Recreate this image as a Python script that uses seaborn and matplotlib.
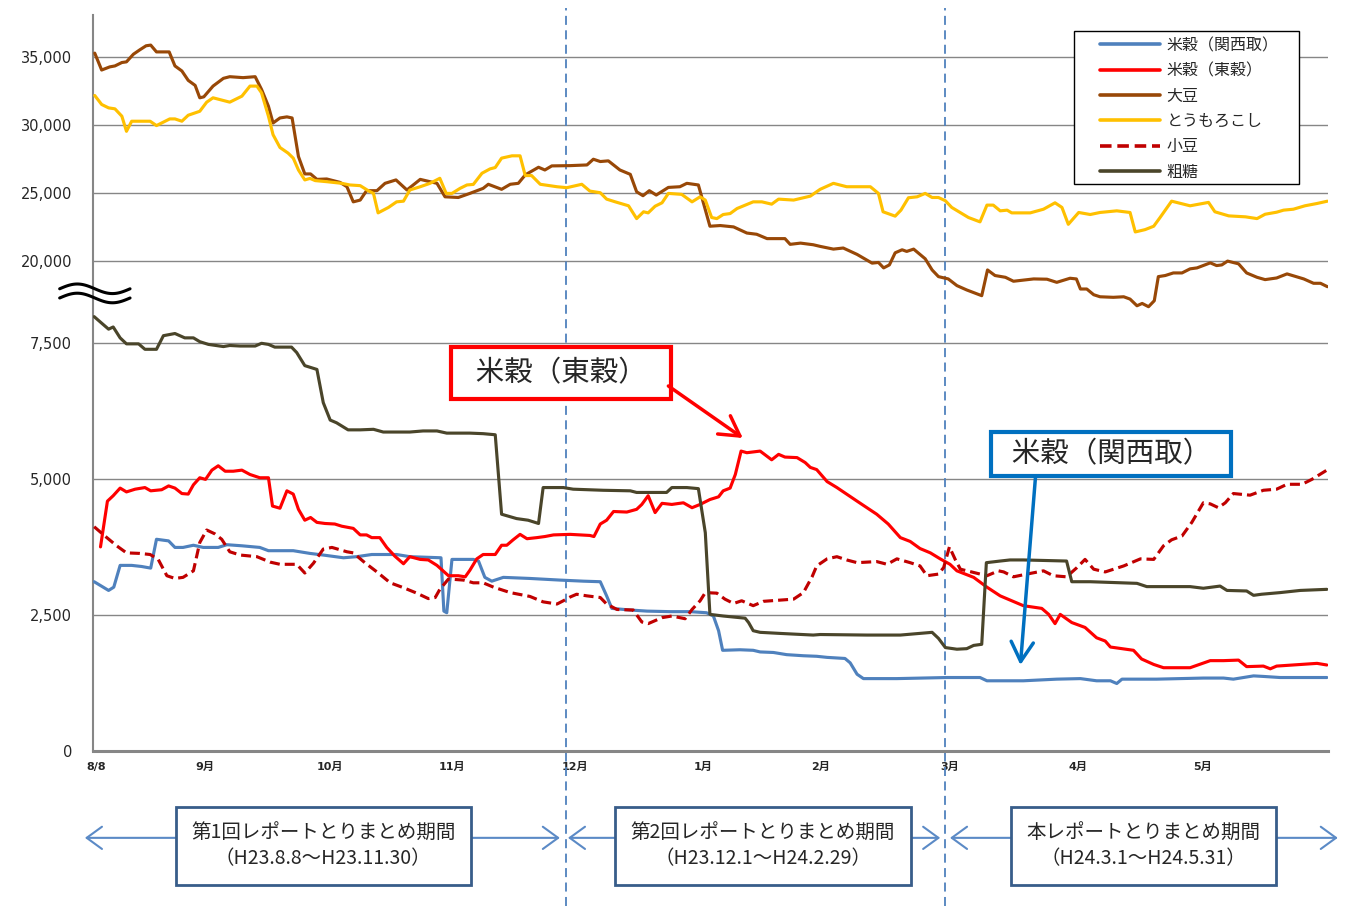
import matplotlib
matplotlib.use("Agg")
import matplotlib.pyplot as plt
import numpy as np
import pandas as pd
import seaborn as sns
from matplotlib.patches import Rectangle

# 横軸: 営業日の通し番号 (0 = H23.8.8), 値: 円/単位
kansai = [(0.2, 3110), (2.7, 2950), (3.6, 3010), (4.7, 3410), (6.7, 3410), (8.4, 3390),
          (10.0, 3360), (11.0, 3890), (13.1, 3860), (14.2, 3740), (15.6, 3740), (17.4, 3780),
          (19.1, 3740), (21.7, 3740), (23.2, 3790), (25.8, 3770), (28.9, 3740), (30.4, 3680),
          (34.7, 3680), (37.6, 3630), (39.9, 3600), (43.4, 3550), (45.7, 3570), (48.3, 3610),
          (52.6, 3610), (54.9, 3570), (60.3, 3550), (60.8, 2570), (61.3, 2540), (62.2, 3520),
          (65.9, 3520), (66.8, 3490), (67.9, 3190), (69.1, 3120), (71.1, 3190), (75.7, 3170),
          (80.9, 3140), (85.0, 3120), (87.9, 3110), (89.0, 2850), (89.9, 2620), (93.1, 2590),
          (96.0, 2570), (100.0, 2560), (103.5, 2560), (106.3, 2540), (107.5, 2480), (108.4, 2210),
          (109.1, 1850), (112.1, 1860), (114.4, 1850), (115.6, 1820), (117.9, 1810), (120.2, 1770),
          (123.1, 1750), (125.4, 1740), (127.2, 1720), (130.3, 1700), (131.2, 1620), (132.4, 1410),
          (133.5, 1330), (139.3, 1330), (148.0, 1350), (153.7, 1350), (154.9, 1290), (161.2, 1290),
          (167.0, 1320), (171.1, 1330), (173.9, 1290), (176.3, 1290), (177.4, 1240), (178.3, 1320),
          (184.3, 1320), (192.4, 1340), (195.9, 1340), (197.6, 1320), (201.1, 1380), (202.8, 1370),
          (205.7, 1350), (213.8, 1350)]

tokoku = [(1.3, 3750), (2.5, 4590), (3.5, 4690), (4.7, 4830), (5.8, 4760), (7.3, 4810),
          (9.0, 4840), (10.0, 4780), (11.9, 4800), (13.1, 4870), (14.2, 4830), (15.4, 4730),
          (16.5, 4720), (17.4, 4890), (18.5, 5020), (19.5, 4990), (20.6, 5160), (21.7, 5240),
          (22.9, 5140), (24.3, 5140), (25.8, 5160), (27.2, 5080), (28.9, 5020), (30.4, 5020),
          (31.1, 4500), (32.4, 4460), (33.6, 4780), (34.7, 4720), (35.6, 4440), (36.7, 4240),
          (37.7, 4290), (38.8, 4200), (40.2, 4180), (41.9, 4170), (43.1, 4130), (45.1, 4090),
          (46.3, 3970), (47.4, 3970), (48.3, 3920), (49.7, 3920), (50.9, 3740), (52.3, 3580),
          (53.8, 3440), (54.9, 3570), (56.7, 3520), (58.1, 3510), (59.6, 3410), (61.6, 3220),
          (63.3, 3220), (64.5, 3200), (65.3, 3320), (66.5, 3530), (67.6, 3610), (69.7, 3610),
          (70.8, 3780), (71.7, 3780), (72.8, 3880), (74.0, 3980), (75.2, 3900), (76.9, 3920),
          (78.3, 3940), (79.8, 3970), (82.7, 3980), (86.1, 3960), (86.8, 3940), (87.9, 4170),
          (89.0, 4240), (90.2, 4400), (92.5, 4390), (94.2, 4440), (95.1, 4530), (96.2, 4690),
          (97.4, 4380), (98.6, 4550), (100.3, 4530), (102.3, 4560), (103.8, 4470), (105.2, 4530),
          (106.9, 4620), (108.4, 4670), (109.2, 4780), (110.4, 4830), (111.3, 5080), (112.3, 5510),
          (113.3, 5480), (115.6, 5510), (117.6, 5350), (118.8, 5450), (119.9, 5400), (122.0, 5390),
          (123.4, 5300), (124.3, 5210), (125.4, 5170), (127.2, 4950), (128.9, 4840), (132.4, 4590),
          (135.8, 4350), (137.8, 4170), (139.9, 3920), (141.6, 3850), (143.3, 3720), (145.1, 3640),
          (146.8, 3530), (148.5, 3430), (149.7, 3310), (152.6, 3190), (154.9, 3010), (157.2, 2850),
          (158.3, 2800), (161.2, 2670), (164.4, 2620), (165.6, 2510), (166.7, 2340), (167.6, 2510),
          (169.6, 2360), (171.9, 2270), (173.9, 2080), (175.4, 2020), (176.3, 1910), (180.3, 1850),
          (181.7, 1690), (183.8, 1590), (185.5, 1530), (190.1, 1530), (193.6, 1660), (195.9, 1660),
          (198.5, 1670), (199.9, 1550), (202.8, 1560), (204.0, 1510), (205.1, 1560), (209.2, 1590),
          (212.1, 1610), (213.8, 1580)]

daizu = [(0.3, 35300), (1.5, 34060), (2.9, 34290), (3.8, 34360), (5.0, 34610), (5.8, 34660),
         (7.0, 35220), (8.1, 35540), (9.2, 35840), (10.0, 35890), (11.0, 35390), (13.2, 35390),
         (14.2, 34360), (15.4, 33990), (16.5, 33300), (17.7, 32930), (18.5, 32020), (19.2, 32090),
         (20.8, 32880), (22.6, 33450), (23.7, 33570), (26.0, 33500), (28.1, 33570), (29.2, 32640),
         (30.4, 31400), (31.2, 30170), (32.4, 30540), (33.6, 30620), (34.5, 30540), (35.6, 27710),
         (36.7, 26430), (37.7, 26430), (38.8, 26030), (40.5, 26060), (42.8, 25810), (44.0, 25490),
         (45.1, 24380), (46.3, 24510), (47.4, 25200), (49.2, 25200), (50.6, 25740), (52.5, 25990),
         (54.4, 25250), (56.7, 26030), (59.6, 25740), (61.0, 24750), (63.3, 24700), (65.3, 25000),
         (67.6, 25370), (68.5, 25670), (70.8, 25300), (72.3, 25670), (73.7, 25740), (74.9, 26360),
         (77.2, 26920), (78.3, 26720), (79.5, 27020), (82.7, 27040), (85.6, 27090), (86.7, 27510),
         (87.9, 27340), (89.3, 27390), (91.3, 26720), (93.1, 26400), (94.2, 25120), (95.3, 24830),
         (96.4, 25200), (97.6, 24880), (99.7, 25440), (101.7, 25490), (102.9, 25740), (104.9, 25620),
         (106.9, 22590), (108.7, 22640), (111.0, 22540), (113.3, 22090), (115.0, 22000), (116.8, 21680),
         (119.9, 21680), (120.8, 21260), (122.6, 21350), (124.8, 21230), (126.0, 21110), (128.3, 20910),
         (130.0, 20990), (132.4, 20520), (135.0, 19880), (136.1, 19930), (137.0, 19530), (138.0, 19750),
         (139.0, 20640), (140.2, 20860), (141.0, 20740), (142.2, 20910), (144.2, 20200), (145.4, 19380),
         (146.5, 18890), (148.2, 18720), (149.7, 18230), (151.4, 17910), (154.0, 17490), (155.0, 19380),
         (156.3, 18970), (158.1, 18840), (159.5, 18550), (163.0, 18720), (165.3, 18700), (167.0, 18470),
         (169.3, 18770), (170.4, 18720), (171.1, 17980), (172.2, 17980), (173.4, 17560), (174.5, 17410),
         (176.8, 17370), (178.6, 17410), (179.7, 17240), (180.9, 16750), (181.8, 16920), (182.9, 16680),
         (183.9, 17120), (184.6, 18890), (185.8, 18970), (187.2, 19160), (188.7, 19160), (190.1, 19460),
         (191.3, 19530), (193.6, 19900), (194.7, 19700), (195.6, 19750), (196.6, 20030), (198.5, 19830),
         (199.9, 19160), (201.7, 18840), (203.1, 18670), (205.1, 18790), (206.9, 19090), (209.8, 18720),
         (211.5, 18400), (212.7, 18400), (213.9, 18150)]

toumorokoshi = [(0.3, 32190), (1.5, 31530), (2.7, 31280), (3.8, 31210), (5.0, 30670), (5.8, 29560),
                (6.7, 30300), (9.9, 30300), (11.0, 29980), (13.3, 30470), (14.2, 30470), (15.4, 30300),
                (16.5, 30740), (18.5, 31030), (19.7, 31700), (20.8, 32020), (23.7, 31700), (25.8, 32140),
                (27.2, 32880), (28.4, 32880), (29.2, 32390), (30.4, 30670), (31.2, 29310), (32.4, 28370),
                (33.8, 27960), (34.7, 27590), (35.6, 26720), (36.7, 25990), (37.6, 26100), (38.5, 25940),
                (40.5, 25860), (43.1, 25740), (44.5, 25620), (46.3, 25570), (47.7, 25200), (48.6, 25000),
                (49.4, 23570), (51.2, 23970), (52.6, 24380), (53.8, 24430), (54.9, 25250), (56.7, 25490),
                (58.4, 25740), (60.1, 26110), (61.2, 25000), (62.2, 25000), (63.6, 25370), (64.8, 25620),
                (65.9, 25660), (67.4, 26480), (68.8, 26800), (69.7, 26900), (70.8, 27590), (72.6, 27760),
                (74.0, 27760), (74.9, 26310), (76.0, 26310), (77.5, 25670), (80.4, 25490), (82.1, 25420),
                (84.7, 25670), (86.1, 25170), (87.9, 25050), (89.0, 24580), (90.5, 24380), (92.8, 24090),
                (94.2, 23150), (95.4, 23650), (96.2, 23570), (97.4, 24060), (98.6, 24310), (99.7, 25000),
                (102.0, 24930), (103.8, 24380), (105.2, 24750), (106.1, 24510), (107.2, 23230), (108.1, 23150),
                (109.2, 23450), (110.4, 23520), (111.6, 23890), (114.4, 24380), (115.9, 24380), (117.6, 24210),
                (118.8, 24580), (121.4, 24510), (124.3, 24800), (126.0, 25300), (128.3, 25740), (130.6, 25490),
                (132.9, 25490), (134.7, 25490), (136.1, 25000), (136.9, 23650), (139.0, 23330), (140.0, 23770),
                (141.3, 24680), (142.8, 24750), (144.2, 25000), (145.4, 24700), (146.5, 24700), (147.7, 24460),
                (148.8, 23970), (151.7, 23230), (153.7, 22910), (154.9, 24140), (156.0, 24140), (157.2, 23720),
                (158.4, 23770), (159.2, 23570), (162.4, 23570), (164.7, 23840), (166.7, 24310), (167.9, 23970),
                (169.0, 22730), (170.8, 23600), (172.8, 23450), (174.5, 23600), (177.4, 23720), (179.7, 23600),
                (180.6, 22170), (182.3, 22340), (183.8, 22590), (184.9, 23230), (186.9, 24430), (190.1, 24090),
                (193.3, 24340), (194.4, 23650), (196.8, 23350), (199.7, 23280), (201.7, 23150), (203.1, 23470),
                (205.1, 23620), (206.3, 23770), (208.0, 23840), (210.0, 24090), (212.1, 24260), (213.9, 24430)]

azuki = [(0.2, 4120), (2.4, 3920), (4.1, 3770), (5.8, 3640), (8.1, 3630), (9.9, 3610),
         (11.3, 3520), (12.8, 3220), (14.2, 3170), (15.6, 3190), (17.4, 3310), (18.5, 3830),
         (19.7, 4060), (21.1, 3990), (22.3, 3890), (23.7, 3660), (25.5, 3600), (28.4, 3570),
         (30.7, 3470), (32.4, 3430), (35.3, 3430), (36.7, 3270), (38.2, 3450), (39.9, 3710),
         (41.4, 3740), (44.0, 3660), (45.1, 3640), (47.1, 3460), (49.2, 3290), (51.5, 3090),
         (53.8, 3000), (56.1, 2900), (58.1, 2800), (59.3, 2820), (60.1, 2970), (61.6, 3160),
         (64.2, 3140), (65.9, 3090), (67.6, 3090), (69.4, 3010), (72.3, 2910), (75.7, 2840),
         (78.0, 2740), (80.4, 2700), (81.5, 2760), (82.7, 2830), (83.8, 2880), (85.6, 2850),
         (87.9, 2820), (89.0, 2700), (90.8, 2600), (93.6, 2590), (95.1, 2370), (96.2, 2340),
         (98.6, 2450), (100.3, 2480), (102.6, 2430), (103.8, 2600), (105.2, 2760), (106.1, 2910),
         (108.1, 2900), (109.5, 2790), (111.0, 2710), (112.4, 2760), (114.4, 2670), (116.2, 2750),
         (121.4, 2790), (123.1, 2910), (124.6, 3200), (125.4, 3400), (127.2, 3530), (128.9, 3570),
         (130.6, 3510), (132.4, 3460), (135.8, 3480), (137.6, 3430), (139.3, 3530), (141.6, 3460),
         (143.3, 3400), (144.5, 3220), (146.5, 3250), (147.4, 3370), (148.4, 3750), (149.4, 3520),
         (150.3, 3340), (152.6, 3280), (154.9, 3220), (156.9, 3310), (157.8, 3290), (159.5, 3200),
         (161.8, 3250), (164.7, 3310), (166.4, 3220), (168.7, 3200), (170.5, 3370), (171.9, 3520),
         (173.4, 3340), (175.4, 3290), (178.6, 3400), (181.5, 3530), (183.8, 3520), (185.5, 3770),
         (186.9, 3880), (188.7, 3950), (190.4, 4200), (192.4, 4560), (193.6, 4540), (195.0, 4470),
         (196.2, 4560), (197.6, 4730), (200.5, 4700), (202.8, 4790), (205.1, 4810), (206.9, 4900),
         (209.5, 4900), (211.2, 4990), (213.8, 5160)]

sotou = [(0.2, 7980), (1.5, 7860), (2.7, 7750), (3.5, 7790), (4.7, 7590), (5.8, 7480),
         (7.9, 7480), (9.0, 7380), (11.0, 7380), (12.2, 7630), (14.2, 7670), (15.9, 7590),
         (17.4, 7590), (18.5, 7520), (20.0, 7470), (22.6, 7430), (23.7, 7450), (25.5, 7440),
         (28.1, 7440), (29.2, 7490), (30.4, 7470), (31.5, 7420), (34.4, 7420), (35.3, 7320),
         (36.7, 7080), (38.8, 7010), (39.9, 6400), (41.1, 6080), (42.2, 6030), (44.2, 5900),
         (46.3, 5900), (48.6, 5910), (50.3, 5860), (54.9, 5860), (57.2, 5880), (59.6, 5880),
         (61.3, 5840), (65.3, 5840), (67.6, 5830), (69.7, 5810), (70.8, 4350), (73.4, 4270),
         (75.4, 4240), (77.2, 4180), (78.0, 4840), (81.5, 4840), (83.2, 4810), (88.4, 4790),
         (93.1, 4780), (94.2, 4750), (99.4, 4750), (100.3, 4840), (102.9, 4840), (104.9, 4820),
         (106.1, 4010), (106.9, 2510), (109.2, 2480), (113.0, 2440), (113.6, 2360), (114.4, 2210),
         (115.6, 2180), (119.1, 2160), (124.8, 2130), (126.0, 2140), (134.1, 2130), (139.9, 2130),
         (145.4, 2180), (146.5, 2070), (147.7, 1900), (149.7, 1870), (151.4, 1880), (152.6, 1940),
         (154.0, 1960), (154.8, 3460), (157.2, 3490), (158.9, 3510), (161.2, 3510), (168.7, 3490),
         (169.6, 3110), (172.8, 3110), (180.9, 3080), (182.6, 3020), (190.1, 3020), (192.4, 2990),
         (195.3, 3030), (196.5, 2950), (199.9, 2940), (201.1, 2860), (202.5, 2880), (205.7, 2910),
         (209.2, 2950), (213.8, 2970)]

series = [
    ("米穀（関西取）", kansai, "#4F81BD", "-"),
    ("米穀（東穀）", tokoku, "#FF0000", "-"),
    ("大豆", daizu, "#984807", "-"),
    ("とうもろこし", toumorokoshi, "#FFC000", "-"),
    ("小豆", azuki, "#C00000", (0, (3.2, 1.6))),
    ("粗糖", sotou, "#4A452A", "-"),
]

month_pos = [0.5, 19.4, 41.1, 62.2, 83.5, 105.7, 126.0, 148.5, 170.7, 192.3]
month_labels = ["8/8", "9月", "10月", "11月", "12月", "1月", "2月", "3月", "4月", "5月"]
y_ticks = [0, 2500, 5000, 7500, 20000, 25000, 30000, 35000]

period_bounds = [82.0, 147.7]
period_spans = [(-1.4, 80.9), (82.3, 146.8), (148.5, 215.7)]
period_centers = [39.9, 116.1, 182.0]
period_texts = [
    "第1回レポートとりまとめ期間\n（H23.8.8～H23.11.30）",
    "第2回レポートとりまとめ期間\n（H23.12.1～H24.2.29）",
    "本レポートとりまとめ期間\n（H24.3.1～H24.5.31）",
]

sns.set_style("white")
plt.rcParams["font.family"] = ["DejaVu Sans", "Noto Sans CJK JP"]
JP = ["Noto Sans CJK JP", "DejaVu Sans"]

# 縦軸は 7,500 と 20,000 の間を省略 (上段は目盛間隔が 1/4)
V_BREAK = [-1e6, 8000, 16500, 1e6]
U_BREAK = [-1e6, 8000, 3989 + 0.2502 * 16500, 3989 + 0.2502 * 1e6]


def fwd(v):
    return np.interp(v, V_BREAK, U_BREAK)


def inv(u):
    return np.interp(u, U_BREAK, V_BREAK)


fig = plt.figure(figsize=(13.47, 9.10), dpi=100)
ax = fig.add_axes([93 / 1347, 159 / 910, 1235 / 1347, 736 / 910])
ax.set_yscale("function", functions=(fwd, inv))

for name, pts, color, ls in series:
    df = pd.DataFrame(pts, columns=["day", "price"])
    sns.lineplot(data=df, x="day", y="price", color=color, linewidth=2.25,
                 linestyle=ls, label=name, estimator=None, errorbar=None,
                 sort=False, ax=ax, zorder=3)

ax.set_xlim(0, 214)
ax.set_ylim(0, 38100)
ax.set_xlabel("")
ax.set_ylabel("")
ax.set_yticks(y_ticks)
ax.set_yticklabels([f"{v:,}" for v in y_ticks])
ax.set_xticks(month_pos)
ax.set_xticklabels(month_labels, fontsize=8, fontweight="bold")
ax.tick_params(axis="y", length=0, pad=15, labelsize=10.5)
ax.tick_params(axis="x", length=0, pad=8)
ax.yaxis.grid(True, color="#868686", lw=1)
ax.xaxis.grid(False)
ax.minorticks_off()
for side in ["top", "right"]:
    ax.spines[side].set_visible(False)
ax.spines["left"].set_color("#868686")
ax.spines["left"].set_linewidth(1.5)
ax.spines["bottom"].set_color("#868686")
ax.spines["bottom"].set_linewidth(2.2)

# 凡例 (枠は別に描く)
ax.add_patch(Rectangle((0.7943, 0.7704), 0.1822, 0.2079, transform=ax.transAxes,
                       fc="white", ec="black", lw=1.0, zorder=8, clip_on=False))
handles, labels = ax.get_legend_handles_labels()
leg = ax.legend(handles, labels, loc="upper left", bbox_to_anchor=(0.8155, 0.9700),
                borderaxespad=0, borderpad=0, prop={"family": JP, "size": 11.5},
                frameon=False, labelspacing=0.52, handlelength=3.75, handletextpad=0.4)
leg.set_zorder(9)
for h in leg.get_lines():
    h.set_linewidth(2.6)

# 省略記号 (≈)
t = np.linspace(0, 1, 60)
for yc in (0.628, 0.6155):
    ax.plot(-0.027 + 0.057 * t, yc + 0.0065 * np.sin(2 * np.pi * t),
            transform=ax.transAxes, color="black", lw=2.2, clip_on=False, zorder=7)

# 期間の区切り
for b in period_bounds:
    ax.axvline(b, ymin=-0.21, ymax=1.0095, color="#4F81BD", lw=1.3,
               ls=(0, (5, 3)), clip_on=False, zorder=2)

trans = ax.get_xaxis_transform()
for (x0, x1), xc, text in zip(period_spans, period_centers, period_texts):
    ax.annotate("", xy=(x0, -0.118), xytext=(x1, -0.118), xycoords=trans, textcoords=trans,
                arrowprops=dict(arrowstyle="<->,head_length=0.55,head_width=0.4",
                                color="#5B8AC6", lw=1.5, mutation_scale=20,
                                shrinkA=0, shrinkB=0),
                annotation_clip=False, zorder=4)
    ax.text(xc, -0.129, text, transform=trans, ha="center", va="center",
            fontsize=14, family=JP, linespacing=1.3, zorder=5,
            bbox=dict(boxstyle="square,pad=0.8", fc="white", ec="#385D8A", lw=2))

# 系列名の吹き出し
ax.text(81.1, 6945, "  米穀（東穀）  ", ha="center", va="center", fontsize=20.5, family=JP,
        zorder=6, bbox=dict(boxstyle="square,pad=0.4", fc="white", ec="#FF0000", lw=3))
ax.annotate("", xy=(112.6, 5750), xytext=(99.7, 6706),
            arrowprops=dict(arrowstyle="->,head_length=0.7,head_width=0.4", color="#FF0000",
                            lw=2.5, mutation_scale=20, shrinkA=0, shrinkB=0), zorder=6)

ax.text(176.4, 5457, "  米穀（関西取）  ", ha="center", va="center", fontsize=20.5, family=JP,
        zorder=6, bbox=dict(boxstyle="square,pad=0.25", fc="white", ec="#0070C0", lw=3))
ax.annotate("", xy=(160.7, 1580), xytext=(163.3, 5016),
            arrowprops=dict(arrowstyle="->,head_length=0.7,head_width=0.4", color="#0070C0",
                            lw=2.5, mutation_scale=20, shrinkA=0, shrinkB=0), zorder=6)

fig.savefig("out.png", dpi=100)
